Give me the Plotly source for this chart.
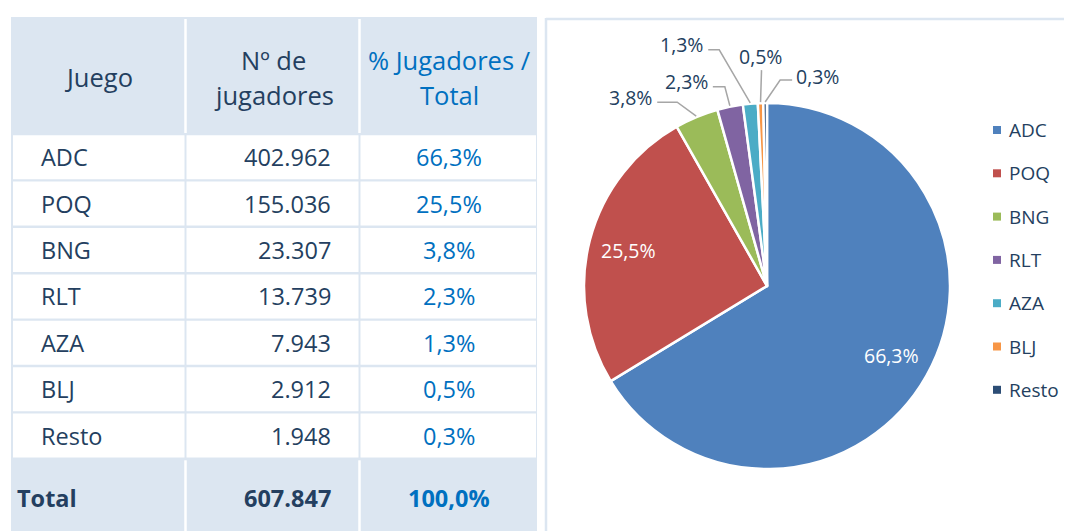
import math
import plotly.graph_objects as go

# ---------------- data ----------------
games = ["ADC", "POQ", "BNG", "RLT", "AZA", "BLJ", "Resto"]
players = [402962, 155036, 23307, 13739, 7943, 2912, 1948]
header_col1 = ["Juego"]
header_col2 = ["Nº de", "jugadores"]
header_col3 = ["% Jugadores /", "Total"]
total_label = "Total"

# ---------------- style ----------------
PAGE_MARGIN = 8               # default body margin of the html page
W, H = 1072 - PAGE_MARGIN, 531 - PAGE_MARGIN
colors = ["#4F81BD", "#C0504D", "#9BBB59", "#8064A2", "#4BACC6", "#F79646", "#2C4D75"]
navy = "#243F60"
blue = "#0070C0"
grid = "#DCE6F1"
FONT = "Open Sans"

def X(p):
    return (p - PAGE_MARGIN) / W

def Y(p):
    return 1 - (p - PAGE_MARGIN) / H

def fmt_int(v):
    return f"{v:,}".replace(",", ".")

def fmt_pct(v):
    return f"{v:.1f}%".replace(".", ",")

total = sum(players)
pcts = [v / total * 100 for v in players]

shapes = []
annotations = []

# ---------------- table ----------------
col_edges = [11, 185.5, 359.5, 537]
header_top, header_bot = 17, 134
row_h = 46.4
body_top = 134
n = len(games)
total_top = body_top + n * row_h + 0.5
total_bot = 531

# background
shapes.append(dict(type="rect", xref="paper", yref="paper", layer="below",
                   x0=X(col_edges[0]), x1=X(col_edges[-1]), y0=Y(header_top), y1=Y(total_bot + 5),
                   fillcolor=grid, line=dict(width=0)))
# white body cells
for r in range(n):
    y0 = body_top + r * row_h
    for c in range(3):
        shapes.append(dict(type="rect", xref="paper", yref="paper", layer="below",
                           x0=X(col_edges[c] + (2 if c == 0 else 1)), x1=X(col_edges[c + 1] - 1),
                           y0=Y(y0 + 1.2), y1=Y(y0 + row_h - 1.2),
                           fillcolor="white", line=dict(width=0)))
# white separators in header and total rows
for xe in col_edges[1:3]:
    for (a, b) in [(header_top + 2, header_bot - 1), (total_top + 1, total_bot + 5)]:
        shapes.append(dict(type="line", xref="paper", yref="paper", layer="below",
                           x0=X(xe), x1=X(xe), y0=Y(a), y1=Y(b),
                           line=dict(color="white", width=2.5)))

def txt(x, y, s, color=navy, size=23.5, anchor="center", bold=False):
    annotations.append(dict(xref="paper", yref="paper", x=X(x), y=Y(y), text=(f"<b>{s}</b>" if bold else s),
                            showarrow=False, xanchor=anchor, yanchor="middle",
                            font=dict(family=FONT, size=size, color=color)))

# header
HS = 25.5
txt((col_edges[0] + col_edges[1]) / 2, 77, header_col1[0], size=HS)
for i, s in enumerate(header_col2):
    txt((col_edges[1] + col_edges[2]) / 2 + 1, 60 + i * 35, s, size=HS)
for i, s in enumerate(header_col3):
    txt((col_edges[2] + col_edges[3]) / 2 + 1, 60 + i * 35, s, color=blue, size=HS)

# body
for r, (g, v, p) in enumerate(zip(games, players, pcts)):
    yc = body_top + r * row_h + row_h / 2
    txt(39, yc, g, anchor="left")
    txt(333, yc, fmt_int(v), anchor="right")
    txt(449, yc, fmt_pct(p), color=blue)

# total row
yt = (total_top + total_bot) / 2 + 3
txt(15, yt, total_label, anchor="left", bold=True)
txt(333, yt, fmt_int(total), anchor="right", bold=True)
txt(449, yt, fmt_pct(100.0), color=blue, bold=True)

# ---------------- right panel border ----------------
shapes.append(dict(type="line", xref="paper", yref="paper", x0=X(546), x1=X(546), y0=Y(18), y1=Y(540),
                   line=dict(color=grid, width=2.5)))
shapes.append(dict(type="line", xref="paper", yref="paper", x0=X(546), x1=X(1080), y0=Y(19), y1=Y(19),
                   line=dict(color=grid, width=2.5)))

# ---------------- pie ----------------
cx, cy, rad = 767, 286, 183

pie = go.Pie(labels=games, values=players, sort=False, direction="clockwise", rotation=0,
             marker=dict(colors=colors, line=dict(color="white", width=2.5)),
             textinfo="none", showlegend=False, hoverinfo="label+value+percent",
             domain=dict(x=[X(cx - rad), X(cx + rad)], y=[Y(cy + rad), Y(cy - rad)]))

# mid-angles (clockwise from 12 o'clock)
mids = []
acc = 0.0
for v in players:
    frac = v / total
    mids.append((acc + frac / 2) * 360)
    acc += frac

def polar(theta_deg, rr):
    t = math.radians(theta_deg)
    return cx + rr * math.sin(t), cy - rr * math.cos(t)

# inside labels for the two large slices
inside_r = 0.78
for i in range(2):
    x, y = polar(mids[i], inside_r * rad)
    annotations.append(dict(xref="paper", yref="paper", x=X(x), y=Y(y), text=fmt_pct(pcts[i]),
                            showarrow=False, xanchor="center", yanchor="middle",
                            font=dict(family=FONT, size=19.5, color="white")))

# outside labels with leader lines for the small slices
leader_elbow = {2: (-19, -14), 3: (-5, -19), 4: (-31, -53), 5: (1, -32), 6: (15, -22)}
leader_h = {2: -20, 3: -12, 4: -11, 5: 0, 6: 12}
for i in range(2, n):
    px_, py_ = polar(mids[i], rad + 1)
    ex, ey = px_ + leader_elbow[i][0], py_ + leader_elbow[i][1]
    lx = ex + leader_h[i]
    path = f"M {X(px_)} {Y(py_)} L {X(ex)} {Y(ey)} L {X(lx)} {Y(ey)}"
    shapes.append(dict(type="path", xref="paper", yref="paper", path=path,
                       line=dict(color="#A6A6A6", width=1.5)))
    if leader_h[i] < 0:
        ax, anchor, ty = lx - 3, "right", ey - 5
    elif leader_h[i] > 0:
        ax, anchor, ty = lx + 2, "left", ey - 4
    else:
        ax, anchor, ty = lx - 1, "center", ey - 14
    annotations.append(dict(xref="paper", yref="paper", x=X(ax), y=Y(ty), text=fmt_pct(pcts[i]),
                            showarrow=False, xanchor=anchor, yanchor="middle",
                            font=dict(family=FONT, size=19.5, color=navy)))

# ---------------- legend (manual) ----------------
leg_x, leg_y0, leg_dy = 997, 130, 43.3
for i, (g, c) in enumerate(zip(games, colors)):
    yy = leg_y0 + i * leg_dy
    shapes.append(dict(type="rect", xref="paper", yref="paper",
                       x0=X(leg_x - 4), x1=X(leg_x + 4), y0=Y(yy - 4), y1=Y(yy + 4),
                       fillcolor=c, line=dict(width=0)))
    annotations.append(dict(xref="paper", yref="paper", x=X(leg_x + 10), y=Y(yy), text=g,
                            showarrow=False, xanchor="left", yanchor="middle",
                            font=dict(family=FONT, size=19, color=navy)))

fig = go.Figure(pie)
fig.update_layout(width=W, height=H, autosize=False,
                  margin=dict(l=0, r=0, t=0, b=0),
                  paper_bgcolor="white", plot_bgcolor="white",
                  shapes=shapes, annotations=annotations)
fig.write_html("out.html")
